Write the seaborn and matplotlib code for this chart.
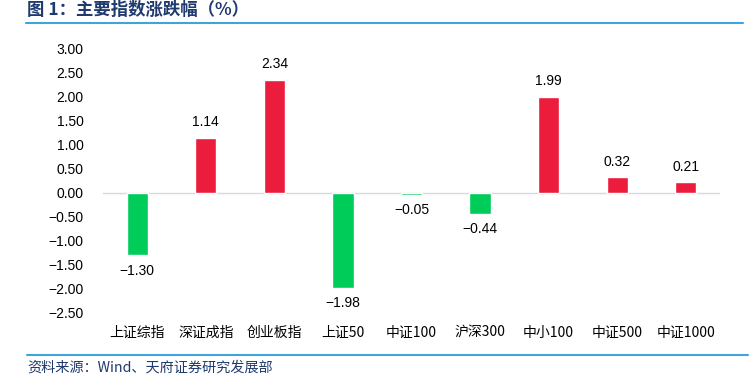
import numpy as np
import pandas as pd
import seaborn as sns
import matplotlib.pyplot as plt
from matplotlib.lines import Line2D

categories = ['上证综指', '深证成指', '创业板指', '上证50', '中证100',
              '沪深300', '中小100', '中证500', '中证1000']
changes = [-1.30, 1.14, 2.34, -1.98, -0.05, -0.44, 1.99, 0.32, 0.21]

RED = '#EC1C3D'
GREEN = '#00CC5A'
NAVY = '#1F3A6E'
NUM_FONT = ['Liberation Sans', 'DejaVu Sans']

sns.set_style('white')
plt.rcParams['font.family'] = ['Noto Sans CJK SC', 'DejaVu Sans']


def fmt(v):
    return f'{v:.2f}'.replace('-', '\u2212')


df = pd.DataFrame({'index': categories, 'change': changes})
colors = [RED if v >= 0 else GREEN for v in changes]

fig = plt.figure(figsize=(7.52, 3.79), dpi=100)
ax = fig.add_axes([103 / 752, 1 - 313 / 379, (720 - 103) / 752, (313 - 48) / 379])

sns.barplot(data=df, x='index', y='change', hue='index', palette=colors,
            width=0.31, legend=False, ax=ax, saturation=1)

ticks = np.arange(-2.5, 3.01, 0.5)
ax.set_ylim(-2.5, 3.0)
ax.set_yticks(ticks)
ax.set_yticklabels([fmt(t) for t in ticks], fontsize=10, color='#000000',
                   family=NUM_FONT)
ax.tick_params(axis='x', labelsize=10, colors='#000000', length=0, pad=9)
ax.tick_params(axis='y', length=0, pad=14)
ax.set_xlabel('')
ax.set_ylabel('')
for s in ax.spines.values():
    s.set_visible(False)
ax.axhline(0, color='#D9D9D9', lw=1, zorder=0)

for cont in ax.containers:
    ax.bar_label(cont, labels=[fmt(v) for v in cont.datavalues], padding=6,
                 fontsize=10, color='#000000', family=NUM_FONT)

fig.text(27 / 752, 1 - 10 / 379, '图 1：主要指数涨跌幅（%）', fontsize=12.5,
         fontweight='bold', color=NAVY, va='center', ha='left')
fig.add_artist(Line2D([26 / 752, 743 / 752], [1 - 23 / 379] * 2,
                      color='#3FA3DD', lw=1.5))
fig.add_artist(Line2D([27 / 752, 748 / 752], [1 - 355 / 379] * 2,
                      color='#3FA3DD', lw=1.5))
fig.text(27 / 752, 1 - 368 / 379, '资料来源：Wind、天府证券研究发展部', fontsize=10.2,
         color=NAVY, va='center', ha='left')

fig.savefig('out.png', dpi=100)
